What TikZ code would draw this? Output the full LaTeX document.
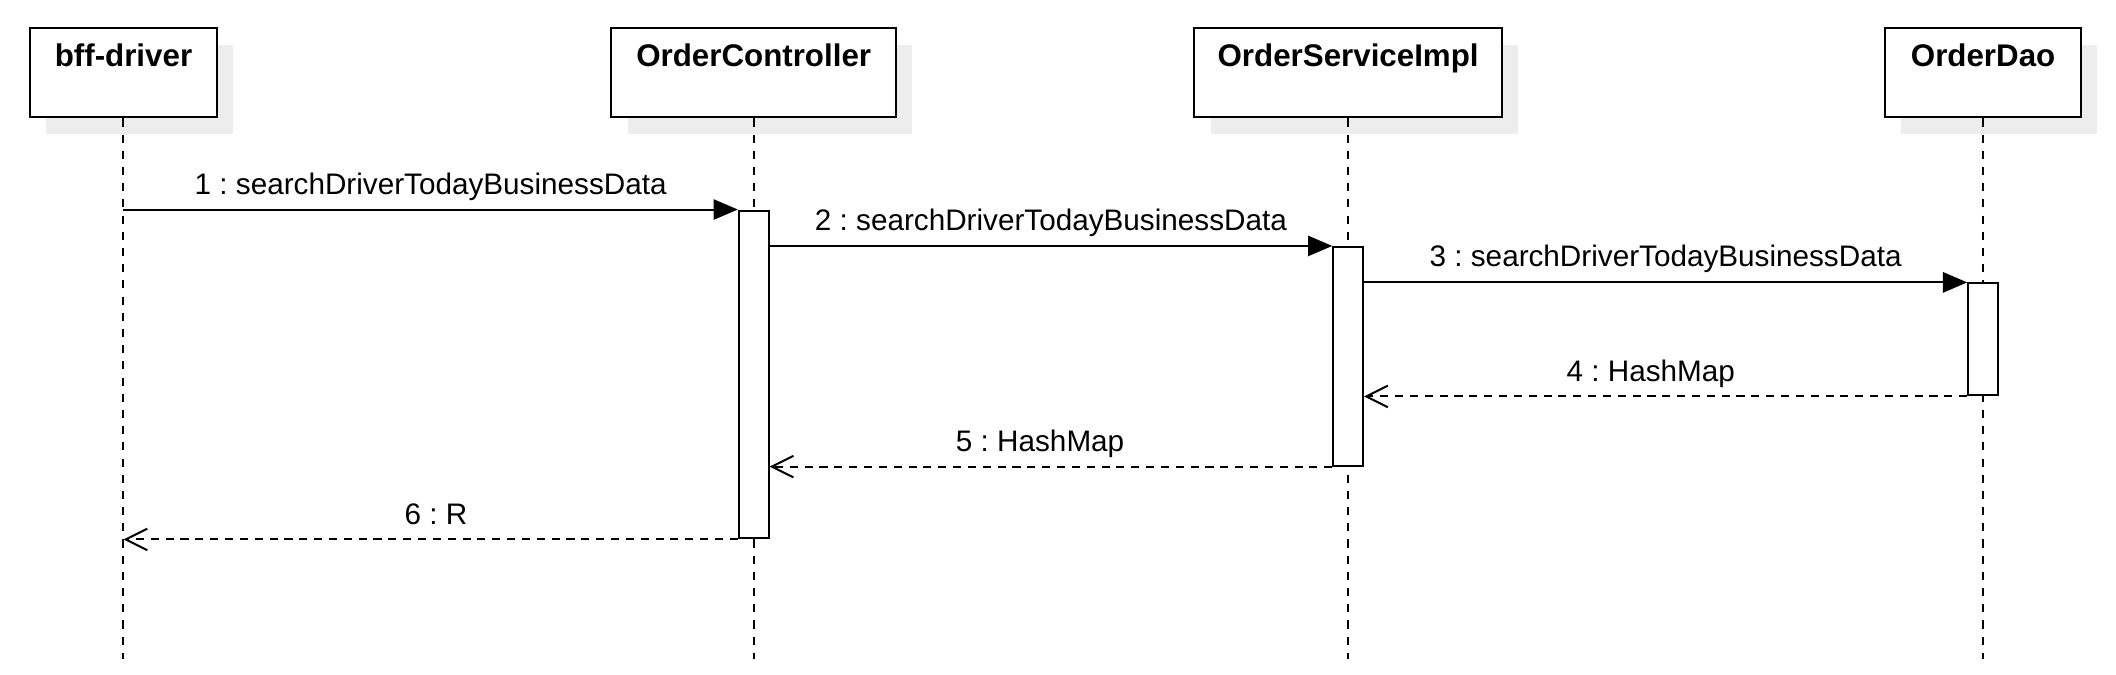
\documentclass[tikz,border=0pt]{standalone}
\usepackage{fontspec}
\setmainfont{Liberation Sans}
\usepackage{tikz}
\usetikzlibrary{arrows.meta, shadows, positioning}
\frenchspacing

\tikzset{
    obj/.style={draw, fill=white, line width=0.75pt, minimum height=33pt, inner sep=0pt,
        drop shadow={shadow xshift=6pt, shadow yshift=-6pt, fill=black!7, opacity=1}},
    objname/.style={font=\fontsize{11.6pt}{14pt}\selectfont\bfseries, anchor=base, inner sep=0pt},
    lifeline/.style={line width=0.75pt, dash pattern=on 3pt off 3pt},
    act/.style={draw, fill=white, line width=0.75pt, minimum width=11pt, inner sep=0pt},
    call/.style={line width=0.75pt, -{Triangle[length=9pt, width=7.5pt]}},
    reply/.style={line width=0.75pt, dash pattern=on 3pt off 2.5pt,
        -{Straight Barb[length=8pt, width=8pt, line width=0.75pt]}},
    msg/.style={above=-0.5pt, text depth=0.25em}
}

\begin{document}
\begin{tikzpicture}[x=0.5pt, y=-0.5pt, font=\fontsize{11pt}{13pt}\selectfont]
    \useasboundingbox (0,0) rectangle (1568,500);
    % Các đối tượng
    \node[obj, minimum width=69.5pt] (drv) at (91.5,54) {};
    \node[obj, minimum width=105.5pt] (ctl) at (558.5,54) {};
    \node[obj, minimum width=114pt] (svc) at (999,54) {};
    \node[obj, minimum width=72.5pt] (dao) at (1469.5,54) {};
    \node[objname] (drvT) at (91.5,49.5) {bff-driver};
    \node[objname] (ctlT) at (558.5,49.5) {OrderController};
    \node[objname] (svcT) at (999,49.5) {OrderServiceImpl};
    \node[objname] (daoT) at (1469.5,49.5) {OrderDao};

    % Đường sống
    \coordinate (bot) at (0,488);
    \foreach \o in {drv,ctl,svc,dao}
        \draw[lifeline] (\o.south) -- (\o.south |- bot);

    % Thanh kích hoạt
    \node[act, minimum height=121.5pt] (ctlA) at (558.5,277.5) {};
    \node[act, minimum height=81pt] (svcA) at (999,264) {};
    \node[act, minimum height=41.5pt] (daoA) at (1469.5,251.5) {};

    % Thông điệp gọi
    \draw[call] (drv.south |- ctlA.north) -- (ctlA.north west)
        node[midway, msg] {1 : searchDriverTodayBusinessData};
    \draw[call] (ctlA.east |- svcA.north) -- (svcA.north west)
        node[midway, msg] {2 : searchDriverTodayBusinessData};
    \draw[call] (svcA.east |- daoA.north) -- (daoA.north west)
        node[midway, msg] {3 : searchDriverTodayBusinessData};

    % Thông điệp trả về
    \draw[reply] (daoA.south west) -- (svcA.east |- daoA.south)
        node[midway, msg, xshift=-5.5pt] {4 : HashMap};
    \draw[reply] (svcA.south west) -- (ctlA.east |- svcA.south)
        node[midway, msg, xshift=-4pt] {5 : HashMap};
    \draw[reply] (ctlA.south west) -- (drv.south |- ctlA.south)
        node[midway, msg, xshift=2pt] {6 : R};
\end{tikzpicture}
\end{document}
